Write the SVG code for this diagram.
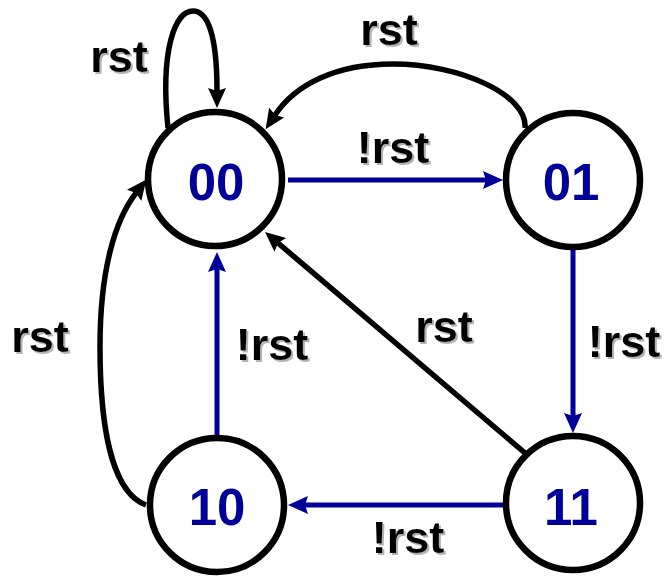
<svg xmlns="http://www.w3.org/2000/svg" width="667" height="576" viewBox="0 0 667 576">
  <style>
    .state circle { fill: #ffffff; stroke: #000000; stroke-width: 6.5; }
    .state text { font-family: "Liberation Sans", Arial, sans-serif; font-weight: bold; font-size: 51px; fill: #000099; text-anchor: middle; }
    .label { font-family: "Liberation Sans", Arial, sans-serif; font-weight: bold; font-size: 45px; fill: #000000; text-anchor: middle; filter: url(#shadow); }
    .edge-k { fill: none; stroke: #000000; stroke-width: 5.5; marker-end: url(#arrowK); }
    .edge-b { fill: none; stroke: #000099; stroke-width: 5; marker-end: url(#arrowB); }
  </style>
  <defs>
    <filter id="shadow" x="-10%" y="-10%" width="130%" height="130%">
      <feDropShadow dx="2" dy="2" stdDeviation="0.6" flood-color="#808080" flood-opacity="0.6"/>
    </filter>
    <marker id="arrowK" markerUnits="userSpaceOnUse" markerWidth="21" markerHeight="20" viewBox="0 0 21 20" refX="3" refY="10" orient="auto">
      <path d="M0,1 L20,10 L0,19 L3,10 z" fill="#000000"/>
    </marker>
    <marker id="arrowB" markerUnits="userSpaceOnUse" markerWidth="21" markerHeight="20" viewBox="0 0 21 20" refX="3" refY="10" orient="auto">
      <path d="M0,1 L20,10 L0,19 L3,10 z" fill="#000099"/>
    </marker>
  </defs>

  <!-- transitions -->
  <g id="connectors">
    <path class="edge-k" d="M168,128 C160,50 175,11 193,11 C212,11 217,50 217,91"/>
    <path class="edge-k" d="M525,128 C528,95 460,64 393,64 C335,64 295,85 275,115"/>
    <path class="edge-k" d="M146,505 C110,492 100,420 100,347 C100,270 115,220 136,193"/>
    <path class="edge-k" d="M525,453 L278,243"/>
    <path class="edge-b" d="M288,180 L486,180"/>
    <path class="edge-b" d="M217,435 L217,269"/>
    <path class="edge-b" d="M573,250 L573,416"/>
    <path class="edge-b" d="M503,505 L305,505"/>
  </g>

  <!-- transition conditions -->
  <g id="labels">
    <text class="label" x="119" y="72">rst</text>
    <text class="label" x="389" y="45">rst</text>
    <text class="label" x="393" y="163">!rst</text>
    <text class="label" x="40" y="352">rst</text>
    <text class="label" x="272" y="360">!rst</text>
    <text class="label" x="444" y="342">rst</text>
    <text class="label" x="624" y="357">!rst</text>
    <text class="label" x="408" y="553">!rst</text>
  </g>

  <!-- states -->
  <g id="s00" class="state">
    <circle cx="215" cy="179" r="67"/>
    <text x="216" y="200">00</text>
  </g>
  <g id="s01" class="state">
    <circle cx="573" cy="180" r="67"/>
    <text x="571" y="200">01</text>
  </g>
  <g id="s10" class="state">
    <circle cx="217" cy="505" r="67"/>
    <text x="217" y="525">10</text>
  </g>
  <g id="s11" class="state">
    <circle cx="573" cy="503" r="67"/>
    <text x="571" y="525">11</text>
  </g>
</svg>
